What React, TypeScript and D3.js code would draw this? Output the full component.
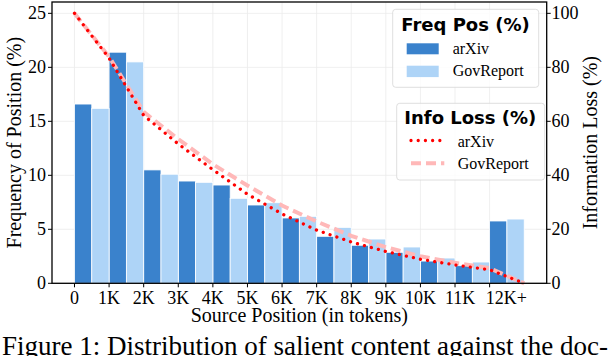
import React from "react";
import * as d3 from "d3";

const categories = ["0", "1K", "2K", "3K", "4K", "5K", "6K", "7K", "8K", "9K", "10K", "11K", "12K+"];
const labelPositions = [0, 1, 2, 3, 4, 5, 6, 7, 8, 9, 10, 11.15, 12.48];
const arxivFreq = [16.6, 21.4, 10.5, 9.47, 9.1, 7.25, 6.05, 4.35, 3.52, 2.87, 2.06, 1.63, 5.77];
const govFreq = [16.2, 20.5, 10.1, 9.35, 7.87, 7.46, 6.2, 5.18, 4.1, 3.36, 2.34, 1.97, 5.95];
const arxivLoss = [100, 83.4, 62.2, 51.6, 42.1, 33.0, 25.7, 19.7, 15.3, 11.8, 8.9, 6.8, 5.0, 0];
const govLoss = [100, 83.9, 63.5, 53.4, 44.1, 36.2, 28.8, 22.9, 17.6, 13.4, 10.0, 7.6, 5.6, 0];
const leftTicks = [0, 5, 10, 15, 20, 25];
const rightTicks = [0, 20, 40, 60, 80, 100];

const W = 610, H = 356;
const L = 52, R = 546.7, T = 2, B = 283.3;
const SERIF = "'Liberation Serif', 'Times New Roman', serif";
const SANS = "'DejaVu Sans', sans-serif";
const C_ARX = "#3a82cc";
const C_GOV = "#aed4f7";

export default function App() {
  const x = d3.scaleLinear().domain([-0.65, 13.65]).range([L, R]);
  const yL = d3.scaleLinear().domain([0, 26.05]).range([B, T]);
  const yR = d3.scaleLinear().domain([0, 104.2]).range([B, T]);
  const line = (vals: number[]) =>
    d3.line<number>().x((_, i) => x(i)).y((v) => yR(v))(vals) || "";
  const bw = x(0.5) - x(0);

  return (
    <svg width={W} height={H} style={{ position: "absolute", left: 0, top: 0, background: "#fff" }}>
      {/* grid */}
      {categories.map((_, i) => (
        <line key={"gx" + i} x1={x(i)} x2={x(i)} y1={T} y2={B} stroke="#ebebeb" strokeWidth={0.8} />
      ))}
      {leftTicks.map((t) => (
        <line key={"gy" + t} x1={L} x2={R} y1={yL(t)} y2={yL(t)} stroke="#ebebeb" strokeWidth={0.8} />
      ))}
      {/* bars */}
      {arxivFreq.map((v, i) => (
        <rect key={"a" + i} x={x(i)} y={yL(v)} width={bw} height={B - yL(v)} fill={C_ARX} stroke="#fff" strokeWidth={0.8} />
      ))}
      {govFreq.map((v, i) => (
        <rect key={"g" + i} x={x(i + 0.5)} y={yL(v)} width={bw} height={B - yL(v)} fill={C_GOV} stroke="#fff" strokeWidth={0.8} />
      ))}
      {/* lines */}
      <path d={line(govLoss)} fill="none" stroke="#ffb8b8" strokeWidth={4} strokeDasharray="10 5" />
      <path d={line(arxivLoss)} fill="none" stroke="#ff0000" strokeWidth={3.3} strokeDasharray="0.01 7.2" strokeLinecap="round" />
      {/* spines */}
      <rect x={L} y={T} width={R - L} height={B - T} fill="none" stroke="#000" strokeWidth={1.3} />
      {/* x ticks */}
      {categories.map((c, i) => (
        <g key={"xt" + i}>
          <line x1={x(i)} x2={x(i)} y1={B} y2={B + 4} stroke="#000" strokeWidth={1} />
          <text x={x(labelPositions[i])} y={303.5} textAnchor="middle" fontFamily={SERIF} fontSize={18}>{c}</text>
        </g>
      ))}
      {leftTicks.map((t) => (
        <g key={"yl" + t}>
          <line x1={L - 4} x2={L} y1={yL(t)} y2={yL(t)} stroke="#000" strokeWidth={1} />
          <text x={46} y={yL(t) + 6} textAnchor="end" fontFamily={SERIF} fontSize={18}>{t}</text>
        </g>
      ))}
      {rightTicks.map((t) => (
        <g key={"yr" + t}>
          <line x1={R} x2={R + 4} y1={yR(t)} y2={yR(t)} stroke="#000" strokeWidth={1} />
          <text x={551.5} y={yR(t) + 6} textAnchor="start" fontFamily={SERIF} fontSize={18}>{t}</text>
        </g>
      ))}
      {/* axis labels */}
      <text x={(L + R) / 2} y={322} textAnchor="middle" fontFamily={SERIF} fontSize={20}>Source Position (in tokens)</text>
      <text transform={`translate(21,${(T + B) / 2}) rotate(-90)`} textAnchor="middle" fontFamily={SERIF} fontSize={20}>Frequency of Position (%)</text>
      <text transform={`translate(597,${(T + B) / 2}) rotate(-90)`} textAnchor="middle" fontFamily={SERIF} fontSize={20}>Information Loss (%)</text>
      {/* legend 1 */}
      <rect x={392.7} y={9.3} width={146} height={78} rx={3} fill="#fff" fillOpacity={0.8} stroke="#d6d6d6" strokeWidth={0.8} />
      <text x={465.5} y={30.7} textAnchor="middle" fontFamily={SANS} fontWeight="bold" fontSize={18}>Freq Pos (%)</text>
      <rect x={406.7} y={43.3} width={32} height={11} fill={C_ARX} />
      <text x={452.7} y={53.5} fontFamily={SERIF} fontSize={16}>arXiv</text>
      <rect x={406.7} y={65.7} width={32} height={11.4} fill={C_GOV} />
      <text x={452.7} y={75.8} fontFamily={SERIF} fontSize={16}>GovReport</text>
      {/* legend 2 */}
      <rect x={396.7} y={103.3} width={148} height={76.7} rx={3} fill="#fff" fillOpacity={0.8} stroke="#d6d6d6" strokeWidth={0.8} />
      <text x={470.3} y={123.5} textAnchor="middle" fontFamily={SANS} fontWeight="bold" fontSize={18}>Info Loss (%)</text>
      <line x1={411} x2={444.3} y1={140.5} y2={140.5} stroke="#ff0000" strokeWidth={3.3} strokeDasharray="0.01 7.2" strokeLinecap="round" />
      <text x={457.7} y={146.5} fontFamily={SERIF} fontSize={16}>arXiv</text>
      <line x1={411} x2={444.3} y1={163.3} y2={163.3} stroke="#ffb8b8" strokeWidth={4} strokeDasharray="10 5" />
      <text x={457.7} y={168.8} fontFamily={SERIF} fontSize={16}>GovReport</text>
      {/* caption */}
      <text x={2} y={355} fontFamily={SERIF} fontSize={27}>Figure 1: Distribution of salient content against the doc-</text>
    </svg>
  );
}
